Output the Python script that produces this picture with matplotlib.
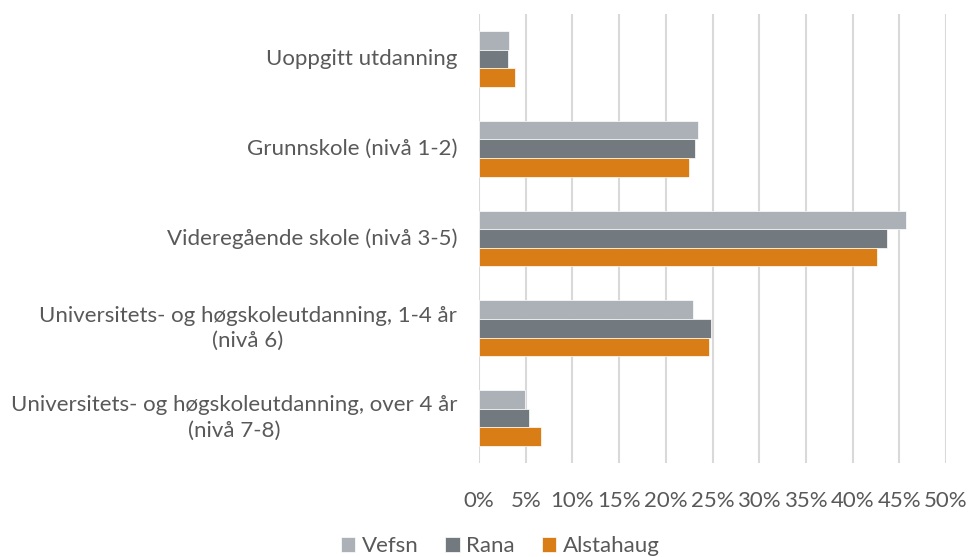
import numpy as np
import matplotlib.pyplot as plt
import matplotlib.transforms as mtransforms

plt.rcParams['font.family'] = ['Lato', 'DejaVu Sans']

categories = ["Uoppgitt utdanning",
              "Grunnskole (nivå 1-2)",
              "Videregående skole (nivå 3-5)",
              "Universitets- og høgskoleutdanning, 1-4 år\n(nivå 6)",
              "Universitets- og høgskoleutdanning, over 4 år\n(nivå 7-8)"]
series = ["Vefsn", "Rana", "Alstahaug"]
vefsn = [3.2, 23.5, 45.7, 22.9, 4.9]
rana = [3.1, 23.1, 43.7, 24.8, 5.4]
alstahaug = [3.9, 22.5, 42.6, 24.6, 6.6]
x_ticks = list(range(0, 55, 5))

colours = ["#ABB1B7", "#72797F", "#D97E16"]
text_col = "#595959"

fig = plt.figure(figsize=(9.71, 5.57), dpi=100)
ax = fig.add_axes([479/971, 1 - 463/557, 467/971, 449/557])

y = np.arange(len(categories))
h = 0.207
for i, (vals, name) in enumerate(zip([vefsn, rana, alstahaug], series)):
    ax.barh(y + (i - 1) * h, vals, height=h, color=colours[i], label=name,
            edgecolor="white", linewidth=0.5, zorder=3)

ax.set_ylim(len(categories) - 0.5, -0.5)
ax.set_xlim(0, 50)
ax.set_xticks(x_ticks)
ax.set_xticklabels([f"{t}%" for t in x_ticks])
ax.set_yticks(y)
ax.set_yticklabels([])

# category labels drawn as text so the two-line ones are centred
trans = mtransforms.blended_transform_factory(ax.transAxes, ax.transData)
for yi, lab in zip(y, categories):
    ax.text(-22/467, yi, lab, transform=trans, ha="right", va="center",
            multialignment="center", linespacing=1.35, fontsize=16,
            color=text_col)

ax.grid(axis="x", color="#D9D9D9", linewidth=1.5, zorder=0)
for s in ax.spines.values():
    s.set_visible(False)
ax.tick_params(axis="both", length=0, labelsize=16, colors=text_col)
ax.tick_params(axis="x", pad=20)

fig.legend(loc="lower center", bbox_to_anchor=(0.515, -0.035), ncol=3,
           frameon=False, fontsize=16, labelcolor=text_col,
           handlelength=0.65, handleheight=0.65, handletextpad=0.3,
           columnspacing=1.2)

fig.savefig("out.png", dpi=100)
